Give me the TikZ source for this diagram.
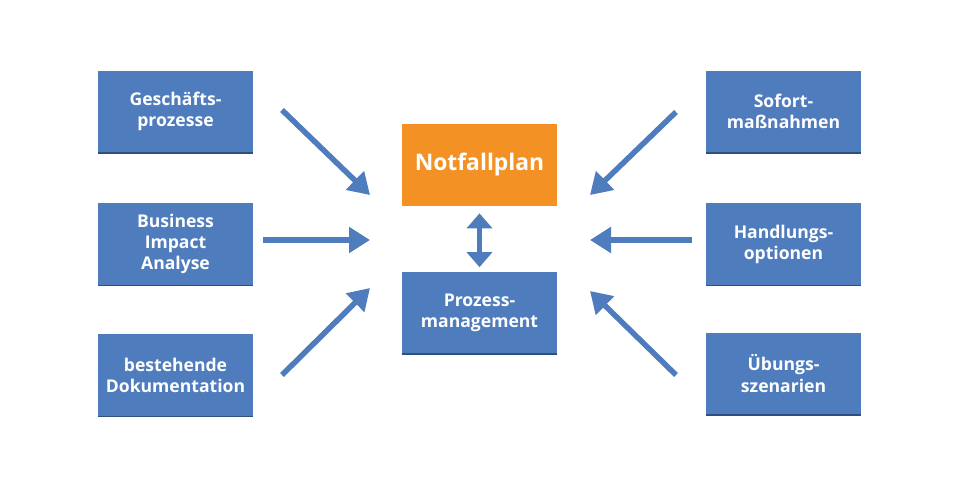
\documentclass[tikz,border=0pt]{standalone}
\usepackage{fontspec}
\setmainfont{Open Sans}
\usetikzlibrary{arrows.meta}
\definecolor{boxblue}{HTML}{4F7CBD}
\definecolor{boxedge}{HTML}{2F4F7F}
\definecolor{orng}{HTML}{F39125}
\tikzset{
  box/.style={fill=boxblue, draw=none, minimum width=3.1cm, minimum height=1.64cm, text=white, font=\bfseries\fontsize{10}{12}\selectfont, align=center, inner sep=0pt},
  arr/.style={draw=boxblue, line width=0.11cm, -{Triangle[length=0.42cm,width=0.5cm]}},
  darr/.style={draw=boxblue, line width=0.11cm, {Triangle[length=0.3cm,width=0.5cm]}-{Triangle[length=0.3cm,width=0.5cm]}}
}
\begin{document}
\begin{tikzpicture}[x=0.02cm,y=-0.02cm]
\useasboundingbox[fill=white] (0,0) rectangle (960,480);
\node[box] (gp) at (175.5,111.5) {Geschäfts-\\prozesse};
\node[box] (bia) at (175.5,244) {Business\\Impact\\Analyse};
\node[box] (bd) at (175.5,375) {bestehende\\Dokumentation};
\node[box] (sm) at (783.5,111.5) {Sofort-\\maßnahmen};
\node[box] (ho) at (783.5,244) {Handlungs-\\optionen};
\node[box] (us) at (783.5,373.5) {Übungs-\\szenarien};
\node[box, fill=orng, font=\bfseries\fontsize{13}{15}\selectfont] (np) at (479.5,165) {Notfallplan};
\node[box] (pm) at (479.5,312.5) {Prozess-\\management};
\foreach \n/\yy in {gp/153,bia/285,bd/415,sm/153,ho/285,us/414,pm/353}
  \draw[boxedge, line width=0.8pt] (\n.south west) -- (\n.south east);
\coordinate (a1) at (282,110); \coordinate (b1) at (370,195);
\coordinate (a2) at (263,240); \coordinate (b2) at (370,240);
\coordinate (a3) at (282,375); \coordinate (b3) at (370,288);
\coordinate (a4) at (676,112); \coordinate (b4) at (590,195);
\coordinate (a5) at (692,240); \coordinate (b5) at (590,240);
\coordinate (a6) at (676,375); \coordinate (b6) at (590,291);
\foreach \i in {1,...,6} \draw[arr] (a\i) -- (b\i);
\draw[darr] ([yshift=-0.14cm]np.south) -- ([yshift=0.08cm]pm.north);
\end{tikzpicture}
\end{document}
